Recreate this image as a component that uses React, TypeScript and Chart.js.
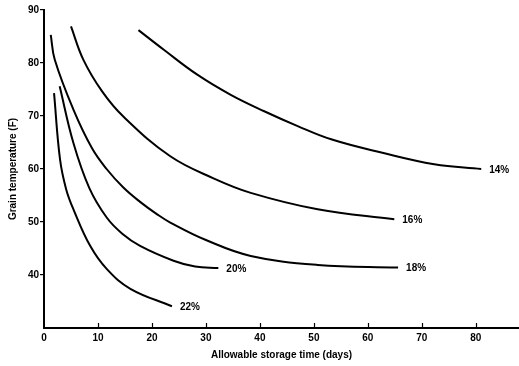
import React, { useEffect, useRef } from "react";
import { Chart, registerables } from "chart.js";

Chart.register(...registerables);

const seriesLabels = ["14%", "16%", "18%", "20%", "22%"];

const x14 = [17.5, 22.2, 28.4, 34.6, 40.8, 47, 53.2, 62.5, 72.3, 81];
const y14 = [86.2, 82.5, 77.8, 74.0, 70.9, 68.1, 65.6, 63.1, 60.9, 60.0];

const x16 = [5.0, 7.3, 10.8, 14.7, 23.4, 31.5, 38.3, 50.7, 64.9];
const y16 = [86.9, 80.6, 74.6, 69.9, 62.4, 58.2, 55.5, 52.4, 50.5];

const x18 = [1.25, 2.0, 5.45, 8.9, 11.6, 14.7, 17.8, 20.9, 23.4, 30, 38.3, 50.7, 65.6];
const y18 = [85.3, 80.6, 71.2, 63.9, 60.0, 56.5, 53.8, 51.5, 49.9, 46.6, 43.6, 41.9, 41.4];

const x20 = [2.9, 5.45, 8.4, 11.65, 14.5, 17.8, 24, 28, 32.3];
const y20 = [75.6, 64.9, 56.4, 50.8, 47.8, 45.5, 42.7, 41.6, 41.3];

const x22 = [1.86, 2.97, 4.1, 5.45, 8.55, 11.65, 16, 23.7];
const y22 = [74.3, 61.8, 56.2, 52.4, 45.5, 41.1, 37.4, 34.1];

const xTicks = [0, 10, 20, 30, 40, 50, 60, 70, 80];
const yTicks = [40, 50, 60, 70, 80, 90];

const xsAll = [x14, x16, x18, x20, x22];
const ysAll = [y14, y16, y18, y20, y22];

const FONT = "'Liberation Sans', Arial, sans-serif";

const endLabels = {
  id: "endLabels",
  afterDatasetsDraw(chart: any) {
    const ctx = chart.ctx;
    const xs = chart.scales.x;
    const ys = chart.scales.y;
    ctx.save();
    ctx.fillStyle = "#000";
    ctx.font = `bold 10px ${FONT}`;
    ctx.textAlign = "left";
    ctx.textBaseline = "middle";
    chart.data.datasets.forEach((ds: any) => {
      const last = ds.data[ds.data.length - 1];
      const px = xs.getPixelForValue(last.x);
      const py = ys.getPixelForValue(last.y);
      ctx.fillText(ds.label, px + 8, py + 1);
    });
    ctx.strokeStyle = "#000";
    ctx.lineWidth = 1.2;
    const bottom = chart.chartArea.bottom;
    xTicks.forEach((v) => {
      if (v === 0) return;
      const px = Math.round(xs.getPixelForValue(v)) + 0.5;
      ctx.beginPath();
      ctx.moveTo(px, bottom);
      ctx.lineTo(px, bottom - 5);
      ctx.stroke();
    });
    ctx.restore();
  },
};

export default function App() {
  const ref = useRef<HTMLCanvasElement | null>(null);
  useEffect(() => {
    if (!ref.current) return;
    const datasets = seriesLabels.map((label, i) => ({
      label,
      data: xsAll[i].map((x, j) => ({ x, y: ysAll[i][j] })),
      showLine: true,
      borderColor: "#000",
      backgroundColor: "#000",
      borderWidth: 2,
      pointRadius: 0,
      tension: 0.4,
      fill: false,
    }));
    const chart = new Chart(ref.current, {
      type: "scatter",
      data: { datasets },
      plugins: [endLabels],
      options: {
        animation: false,
        responsive: false,
        layout: { padding: { top: 10, right: 0, left: 0, bottom: 0 } },
        plugins: { legend: { display: false }, tooltip: { enabled: false } },
        scales: {
          x: {
            type: "linear",
            min: 0,
            max: 88,
            afterBuildTicks: (s: any) => {
              s.ticks = xTicks.map((v) => ({ value: v }));
            },
            afterFit: (s: any) => {
              s.height = 38;
            },
            grid: { display: true, drawOnChartArea: false, drawTicks: false, color: "rgba(0,0,0,0)" },
            border: { display: true, color: "#000", width: 2 },
            ticks: {
              color: "#000",
              padding: 4,
              maxRotation: 0,
              font: { family: FONT, size: 10, weight: "bold" },
            },
            title: {
              display: true,
              text: "Allowable storage time (days)",
              color: "#000",
              font: { family: FONT, size: 10, weight: "bold" },
              padding: { top: 0, bottom: 5 },
            },
          },
          y: {
            type: "linear",
            min: 30,
            max: 90,
            afterBuildTicks: (s: any) => {
              s.ticks = yTicks.map((v) => ({ value: v }));
            },
            afterFit: (s: any) => {
              s.width = 44;
            },
            grid: { display: true, drawOnChartArea: false, drawTicks: true, tickLength: 4, color: "#000", lineWidth: 1.2 },
            border: { display: true, color: "#000", width: 2 },
            ticks: {
              color: "#000",
              padding: 1,
              font: { family: FONT, size: 10, weight: "bold" },
            },
            title: {
              display: true,
              text: "Grain temperature (F)",
              color: "#000",
              font: { family: FONT, size: 10, weight: "bold" },
              padding: { top: 7, bottom: 0 },
            },
          },
        },
      },
    });
    return () => chart.destroy();
  }, []);
  return (
    <div style={{ position: "fixed", left: 0, top: 0, width: 519, height: 366, background: "#fff" }}>
      <canvas ref={ref} width={519} height={366} />
    </div>
  );
}
